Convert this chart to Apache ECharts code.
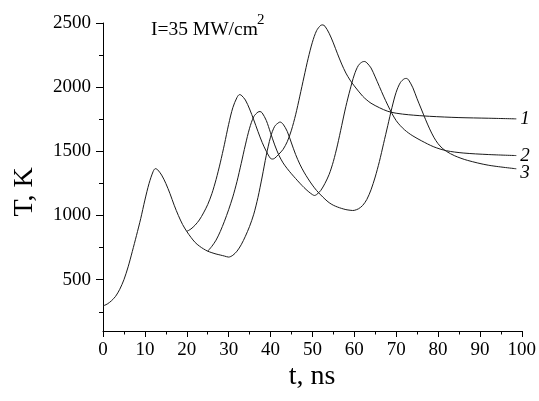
<!DOCTYPE html>
<html>
<head>
<meta charset="utf-8">
<script src="https://cdn.jsdelivr.net/npm/echarts@6/dist/echarts.min.js"></script>
<style>html,body{margin:0;padding:0;background:#fff}#c{width:539px;height:401px}</style>
</head>
<body>
<div id="c"></div>
<script>
// Common part (all three curves)
const tCommon = [0, 1, 2, 3, 4, 5, 6, 7, 8, 9, 10, 11, 12, 12.5, 13, 14, 15, 16, 17, 18, 19, 20];
const TCommon = [295, 310, 335, 370, 425, 500, 600, 720, 845, 975, 1120, 1250, 1345, 1365, 1358, 1315, 1250, 1170, 1080, 1000, 930, 876];
// Shared by curves 2 and 3
const tShared23 = [21, 22, 23, 24, 25];
const TShared23 = [830, 790, 762, 740, 722];
// Curve 3 before its branch
const tShared3 = [26, 27, 28, 29, 30];
const TShared3 = [710, 700, 692, 684, 676];
// Branch of curve 1 (after t = 20)
const t1 = [21, 22, 23, 24, 25, 26, 27, 28, 29, 30, 31, 32, 32.6, 33, 34, 35, 36, 37, 38, 39, 40, 40.5, 41, 42, 43, 44, 45, 46, 47, 48, 49, 50, 51, 52, 52.5, 53, 54, 55, 56, 57, 58, 59, 60, 62, 63, 64, 66, 68, 70, 73, 78, 85, 92, 98.7];
const T1 = [895, 925, 965, 1020, 1085, 1170, 1280, 1410, 1555, 1710, 1840, 1920, 1942, 1938, 1900, 1830, 1745, 1655, 1570, 1500, 1445, 1440, 1446, 1478, 1515, 1575, 1665, 1785, 1930, 2080, 2225, 2350, 2440, 2482, 2485, 2475, 2420, 2345, 2260, 2180, 2110, 2055, 2010, 1930, 1900, 1875, 1840, 1812, 1797, 1785, 1773, 1763, 1758, 1753];
// Branch of curve 2 (after t = 25)
const t2 = [26, 27, 28, 29, 30, 31, 32, 33, 34, 35, 36, 37, 37.5, 38, 39, 40, 41, 42, 43, 44, 45, 46, 47, 48, 49, 50, 50.5, 51, 52, 53, 54, 55, 56, 57, 58, 59, 60, 61, 62, 62.5, 63, 64, 65, 66, 67, 68, 69, 70, 71, 72, 73, 74, 76, 79, 82, 86, 92, 98.7];
const T2 = [760, 808, 875, 955, 1045, 1145, 1265, 1405, 1550, 1680, 1770, 1806, 1810, 1800, 1740, 1645, 1550, 1470, 1410, 1365, 1325, 1288, 1252, 1218, 1188, 1163, 1156, 1163, 1195, 1250, 1320, 1420, 1550, 1700, 1850, 1980, 2095, 2170, 2198, 2200, 2190, 2150, 2080, 2005, 1930, 1860, 1795, 1740, 1700, 1668, 1642, 1620, 1583, 1535, 1505, 1487, 1475, 1467];
// Branch of curve 3 (after t = 30)
const t3 = [31, 32, 33, 34, 35, 36, 37, 38, 39, 40, 41, 42, 42.3, 43, 44, 45, 46, 47, 48, 49, 50, 51, 52, 53, 54, 55, 56, 57, 58, 59, 59.6, 60, 61, 62, 63, 64, 65, 66, 67, 68, 69, 70, 71, 72, 72.5, 73, 74, 75, 76, 77, 78, 79, 80, 81, 82, 84, 87, 92, 98.7];
const T3 = [690, 722, 772, 838, 915, 1010, 1140, 1300, 1470, 1610, 1695, 1725, 1728, 1712, 1655, 1565, 1475, 1400, 1338, 1285, 1237, 1195, 1160, 1128, 1100, 1080, 1066, 1055, 1046, 1041, 1039, 1040, 1052, 1078, 1125, 1200, 1300, 1420, 1560, 1700, 1840, 1960, 2035, 2066, 2068, 2055, 1995, 1910, 1830, 1750, 1675, 1610, 1560, 1525, 1500, 1465, 1430, 1392, 1364];
const curveLabels = ['1', '2', '3'];
const yLabelValues = [500, 1000, 1500, 2000, 2500];
const yMinorValues = [250, 750, 1250, 1750, 2250];

function zip(ts, vs) { return ts.map((t, i) => [t, vs[i]]); }
const nC = tCommon.length - 1;
const n23 = tShared23.length - 1;
const curve1 = [[tCommon[nC], TCommon[nC]]].concat(zip(t1, T1));
const curve2 = [[tShared23[n23], TShared23[n23]]].concat(zip(t2, T2));
const curve3 = zip(tCommon, TCommon).concat(zip(tShared23, TShared23), zip(tShared3, TShared3), zip(t3, T3));

const FONT = 'Liberation Serif';
const chart = echarts.init(document.getElementById('c'), null, { renderer: 'canvas' });

function mkSeries(data, label, off) {
  return {
    type: 'line', data: data, smooth: 0.3, showSymbol: false, symbol: 'none',
    lineStyle: { color: '#1a1a1a', width: 1 }, animation: false, silent: true,
    endLabel: { show: true, formatter: label, distance: 4, offset: off,
      fontFamily: FONT, fontStyle: 'italic', fontSize: 19, color: '#000' }
  };
}

chart.setOption({
  animation: false,
  backgroundColor: '#fff',
  grid: { left: 103, right: 17, top: 23, bottom: 70 },
  xAxis: {
    type: 'value', min: 0, max: 100, interval: 10,
    axisLine: { lineStyle: { color: '#000', width: 1 } },
    axisTick: { inside: false, length: 6, lineStyle: { color: '#000' } },
    minorTick: { show: true, splitNumber: 2, length: 3.5, lineStyle: { color: '#000' } },
    splitLine: { show: false },
    axisLabel: { fontFamily: FONT, fontSize: 19, color: '#000', margin: 10 }
  },
  yAxis: [{
    type: 'value', min: 100, max: 2500,
    axisLine: { show: true, lineStyle: { color: '#000', width: 1 } },
    axisTick: { show: true, inside: false, length: 7, customValues: yLabelValues, lineStyle: { color: '#000' } },
    splitLine: { show: false },
    axisLabel: { fontFamily: FONT, fontSize: 19, color: '#000', margin: 12, customValues: yLabelValues,
      formatter: function (v) { return String(v); } }
  }, {
    type: 'value', min: 100, max: 2500, position: 'left',
    axisLine: { show: false },
    axisTick: { show: true, inside: false, length: 4, customValues: yMinorValues, lineStyle: { color: '#000' } },
    splitLine: { show: false },
    axisLabel: { show: false }
  }],
  graphic: [
    { type: 'text', x: 25, y: 192, rotation: Math.PI / 2,
      style: { text: 'T, K', font: '28px "Liberation Serif"', fill: '#000', align: 'center', verticalAlign: 'middle' } },
    { type: 'text', x: 312, y: 377,
      style: { text: 't, ns', font: '28px "Liberation Serif"', fill: '#000', align: 'center', verticalAlign: 'middle' } },
    { type: 'text', x: 151, y: 20,
      style: { text: 'I=35 MW/cm', font: '19.5px "Liberation Serif"', fill: '#000', align: 'left', verticalAlign: 'top' } },
    { type: 'text', x: 257, y: 13,
      style: { text: '2', font: '15px "Liberation Serif"', fill: '#000', align: 'left', verticalAlign: 'top' } }
  ],
  series: [
    mkSeries(curve1, curveLabels[0], [0, 0]),
    mkSeries(curve2, curveLabels[1], [0, 0]),
    mkSeries(curve3, curveLabels[2], [0, 4])
  ]
});
</script>
</body>
</html>
